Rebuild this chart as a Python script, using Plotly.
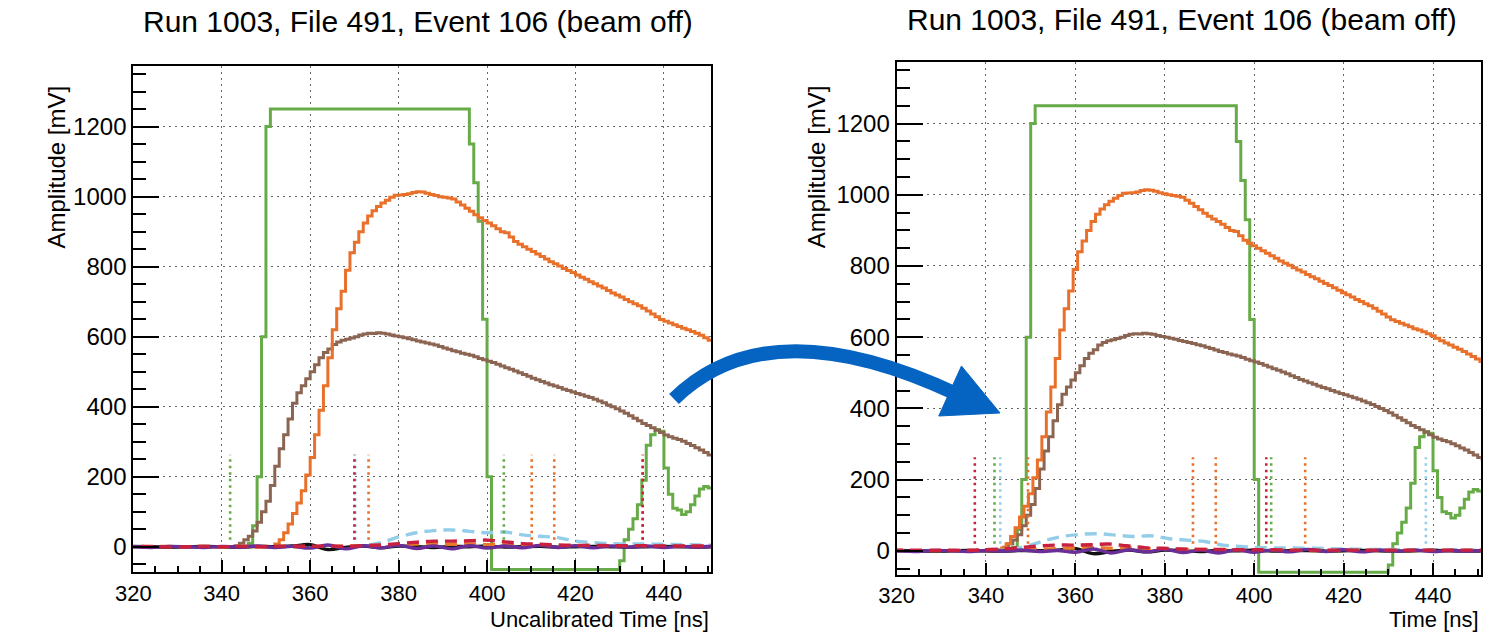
import numpy as np
import plotly.graph_objects as go

W, H = 1493, 632

# ---------------- data (raw / uncalibrated time) ----------------
# 1 ns sampled waveforms, raw time 320..461 ns
t_fast = np.arange(320, 462)

green = ([0] * 26                                              # 320..345
         + [10, 60, 200, 600]                                  # 346..349
         + [1200] + [1250] * 9                                 # 350..359
         + [1250] * 30                                         # 360..389
         + [1250, 1250, 1250, 1250, 1250, 1250, 1150, 1040, 930, 650]  # 390..399
         + [200] + [-250] * 9                                  # 400..409 (underflow)
         + [-250] * 20                                         # 410..429 (underflow)
         + [-40, 20, 50, 80, 120, 190, 290, 320, 335, 330]     # 430..439
         + [225, 150, 110, 105, 92, 100, 120, 145, 165, 172]   # 440..449
         + [168, 165, 160, 155, 150, 148, 145, 140, 138, 135, 132, 130])  # 450..461

orange = [0] * 32 + [                                          # 320..351
    8, 20, 40, 65, 95, 125, 160, 205,                          # 352..359
    255, 320, 390, 460, 540, 620, 680, 730, 790, 840,          # 360..369
    870, 900, 925, 945, 960, 972, 982, 990, 998, 1004,         # 370..379
    1005, 1006, 1008, 1012, 1014, 1013, 1010, 1006, 1003, 1000,  # 380..389
    998, 996, 993, 985, 976, 967, 958, 948, 940, 932,          # 390..399
    925, 917, 908, 900, 897, 885, 872, 864, 857, 850,          # 400..409
    843, 836, 829, 822, 814, 808, 802, 795, 789, 783,          # 410..419
    776, 770, 764, 757, 751, 745, 739, 732, 725, 719,          # 420..429
    713, 706, 700, 694, 688, 681, 673, 665, 657, 649,          # 430..439
    644, 639, 634, 629, 624, 620, 615, 610, 604, 597,          # 440..449
    590, 584, 578, 572, 566, 560, 553, 546, 539, 532, 526, 520]  # 450..461

brown = [0] * 23 + [                                           # 320..342
    3, 10, 20, 30, 45, 70, 100,                                # 343..349
    130, 175, 230, 280, 320, 365, 410, 440, 460, 480,          # 350..359
    500, 520, 540, 555, 565, 578, 585, 590, 593, 596,          # 360..369
    600, 605, 608, 610, 609, 611, 610, 608, 605, 602,          # 370..379
    600, 597, 594, 591, 588, 585, 582, 579, 576, 572,          # 380..389
    568, 564, 560, 557, 553, 550, 547, 543, 538, 534,          # 390..399
    530, 526, 521, 516, 511, 507, 502, 497, 492, 487,          # 400..409
    481, 477, 472, 468, 463, 459, 455, 450, 446, 442,          # 410..419
    438, 434, 430, 426, 421, 416, 411, 405, 400, 394,          # 420..429
    388, 381, 374, 367, 360, 352, 346, 340, 333, 326,          # 430..439
    319, 314, 310, 306, 301, 295, 289, 283, 276, 269,          # 440..449
    262, 256, 250, 244, 238, 232, 226, 220, 214, 208, 202, 196]  # 450..461

# slowly varying channels, sampled every 4 ns, raw time 296..488 ns
t_slow = np.arange(296, 489, 4)
lightblue = [0, 0, 0, 0, 0, 0, 0, 0, 0, 0, 0, 0, 0, 0, 0, 0, 0, 0, 0,
             3, 12, 28, 40, 46, 48, 44, 40, 42, 34, 30, 26, 16, 12, 9, 8, 8, 7, 6, 5,
             4, 4, 3, 3, 3, 3, 2, 2, 2, 2]
black = [0, 0, 1, 0, -1, 0, 1, 0, -1, 0, 1, 0, -1, 1, 0, 2, 6, -8, -2, 2, -3, 2, 0, -2, 1,
         0, 2, -1, 0, 1, -1, 0, 1, 0, -1, 0, 1, 0, -1, 0, 1, 0, 0, 0, 0, 0, 0, 0, 0]
purple = [0, -1, 1, 0, -1, 1, 0, -2, 1, 0, -2, 1, -1, 2, -2, 1, -4, 5, -6, 3, -3, 4, -5, 2, -6,
          3, -4, 2, -3, 4, -2, 3, -3, 2, -1, 2, -2, 1, -1, 2, -1, 1, -1, 1, 0, 1, 0, 0, 0]
orange_dash = [0, 0, 1, 0, 1, 0, 1, 0, 1, 0, 1, 0, 1, 0, 1, 0, 1, 1, 2, 3, 4, 6, 8, 9, 7,
               8, 6, 5, 4, 4, 3, 3, 2, 2, 2, 1, 1, 1, 1, 1, 1, 1, 1, 1, 1, 1, 1, 1, 1]
red_dash = [0, 0, 1, 0, -1, 1, 0, 1, -1, 0, 1, 0, 1, 0, 1, 2, 1, 2, 1, 3, 5, 9, 13, 16, 16,
            17, 19, 14, 9, 7, 5, 4, 4, 3, 3, 3, 2, 2, 2, 2, 2, 2, 2, 2, 2, 2, 2, 2, 2]

# reconstructed hit times (raw), drawn as dotted markers
hits_green = [341.9, 403.8]
hits_orange = [373.2, 410.1, 415.2, 435.2]
hits_lightblue = [370.2, 465.4]
hits_red = [370.0, 435.2]
hit_low, hit_high = 20, 263

# timing calibration offsets per channel (ns)
offset = {"green": 0.0, "orange": -8.5, "brown": 0.0, "lightblue": -27.0,
          "black": 0.0, "purple": 0.0, "orange_dash": -23.8, "red": -32.5}

colors = {"green": "#66ab47", "orange": "#e8702a", "brown": "#8b6552",
          "lightblue": "#93cde8", "black": "#111111", "purple": "#6a2e98",
          "orange_dash": "#e8782a", "red": "#c8203e"}

titles = ["Run 1003, File 491, Event 106 (beam off)", "Run 1003, File 491, Event 106 (beam off)"]
xtitles = ["Uncalibrated Time [ns]", "Time [ns]"]
ytitle = "Amplitude [mV]"
x_range = [320, 450.7]
y_ranges = [[-73, 1374], [-68, 1373]]

for name, arr in (("green", green), ("orange", orange), ("brown", brown)):
    assert len(arr) == len(t_fast), (name, len(arr))
for arr in (lightblue, black, purple, orange_dash, red_dash):
    assert len(arr) == len(t_slow)

# ---------------- layout geometry (pixels) ----------------
panels = [
    dict(x0=116.7, x1=701.7, y0=65.7, y1=572.3),
    dict(x0=889.3, x1=1480.7, y0=62.0, y1=575.0),
]

FONT = "Liberation Sans, Arial, Helvetica, sans-serif"
fig = go.Figure()


def add_panel(i, calibrated):
    xa = "x" if i == 0 else "x2"
    ya = "y" if i == 0 else "y2"
    ymin = y_ranges[i][0]

    def tx(arr, ch):
        return np.asarray(arr, float) + (offset[ch] if calibrated else 0.0)

    for ch, arr in (("green", green), ("brown", brown), ("orange", orange)):
        # underflow drawn along the bottom of the frame (as ROOT does)
        vals = np.clip(np.asarray(arr, float), ymin + 8, None)
        fig.add_trace(go.Scatter(x=tx(t_fast, ch), y=vals, mode="lines", line_shape="hv",
                                 line=dict(color=colors[ch], width=3),
                                 xaxis=xa, yaxis=ya, showlegend=False, hoverinfo="skip"))
    for ch, arr, dash in (("lightblue", lightblue, "12px,7px"), ("black", black, "solid"),
                          ("orange_dash", orange_dash, "12px,7px"), ("purple", purple, "solid"),
                          ("red", red_dash, "12px,7px")):
        fig.add_trace(go.Scatter(x=tx(t_slow, ch), y=arr, mode="lines", line_shape="spline",
                                 line=dict(color=colors[ch], width=3.4, dash=dash),
                                 xaxis=xa, yaxis=ya, showlegend=False, hoverinfo="skip"))
    for ch, hits in (("lightblue", hits_lightblue), ("orange", hits_orange),
                     ("green", hits_green), ("red", hits_red)):
        xs, ys = [], []
        for h in tx(hits, ch if ch != "orange" else "orange_dash"):
            xs += [h, h, None]
            ys += [hit_low, hit_high, None]
        fig.add_trace(go.Scatter(x=xs, y=ys, mode="lines",
                                 line=dict(color=colors[ch], width=2.6, dash="2.5px,4px"),
                                 xaxis=xa, yaxis=ya, showlegend=False, hoverinfo="skip"))


add_panel(0, False)
add_panel(1, True)

axis_common = dict(showline=True, linecolor="black", linewidth=2, mirror=True,
                   ticks="inside", tickcolor="black", tickwidth=1.5,
                   showgrid=True, gridcolor="#666666", gridwidth=1.3, griddash="2px,4px",
                   zeroline=False)

for i, p in enumerate(panels):
    xd = [p["x0"] / W, p["x1"] / W]
    yd = [1 - p["y1"] / H, 1 - p["y0"] / H]
    xk = "xaxis" if i == 0 else "xaxis2"
    yk = "yaxis" if i == 0 else "yaxis2"
    fig.layout[xk] = dict(axis_common, domain=xd, range=x_range, tick0=320, dtick=20,
                          ticklen=12, anchor="y" if i == 0 else "y2",
                          tickfont=dict(family=FONT, size=22, color="black"),
                          minor=dict(ticks="inside", ticklen=6, dtick=5, tick0=320,
                                     tickcolor="black", tickwidth=1.5, showgrid=False))
    fig.layout[yk] = dict(axis_common, domain=yd, range=y_ranges[i], tick0=0, dtick=200,
                          ticklen=26, anchor="x" if i == 0 else "x2",
                          tickfont=dict(family=FONT, size=24, color="black"),
                          minor=dict(ticks="inside", ticklen=13, dtick=50, tick0=0,
                                     tickcolor="black", tickwidth=1.5, showgrid=False))

# texts
ann = []
title_pos = [(405, 22), (1178, 20)]
ytitle_pos = [(38, 167), (808, 167)]
for i, p in enumerate(panels):
    ann.append(dict(text=titles[i], x=title_pos[i][0] / W, y=1 - title_pos[i][1] / H,
                    xref="paper", yref="paper", showarrow=False, xanchor="center", yanchor="middle",
                    font=dict(family=FONT, size=30, color="black")))
    ann.append(dict(text=xtitles[i], x=p["x1"] / W, y=1 - 619 / H, xref="paper", yref="paper",
                    showarrow=False, xanchor="right", yanchor="middle",
                    font=dict(family=FONT, size=22, color="black")))
    ann.append(dict(text=ytitle, x=ytitle_pos[i][0] / W, y=1 - ytitle_pos[i][1] / H,
                    xref="paper", yref="paper", showarrow=False, textangle=-90,
                    xanchor="center", yanchor="middle",
                    font=dict(family=FONT, size=24, color="black")))


# curved arrow between the panels (paper coordinates)
def P(x, y):
    return f"{x / W:.5f},{1 - y / H:.5f}"


arrow_body = f"M {P(664, 399)} Q {P(760, 306)} {P(950, 394)}"
arrow_head = f"M {P(955, 366)} L {P(994, 413)} L {P(932, 416)} Z"
shapes = [
    dict(type="path", path=arrow_body, xref="paper", yref="paper",
         line=dict(color="#0563c1", width=14)),
    dict(type="path", path=arrow_head, xref="paper", yref="paper",
         line=dict(color="#0563c1", width=1), fillcolor="#0563c1"),
]

fig.update_layout(width=W, height=H, margin=dict(l=0, r=0, t=0, b=0),
                  paper_bgcolor="white", plot_bgcolor="white",
                  annotations=ann, shapes=shapes, showlegend=False)

fig.write_html("out.html", config={"displayModeBar": False},
               post_script="document.body.style.margin='0';document.body.style.overflow='hidden';")
